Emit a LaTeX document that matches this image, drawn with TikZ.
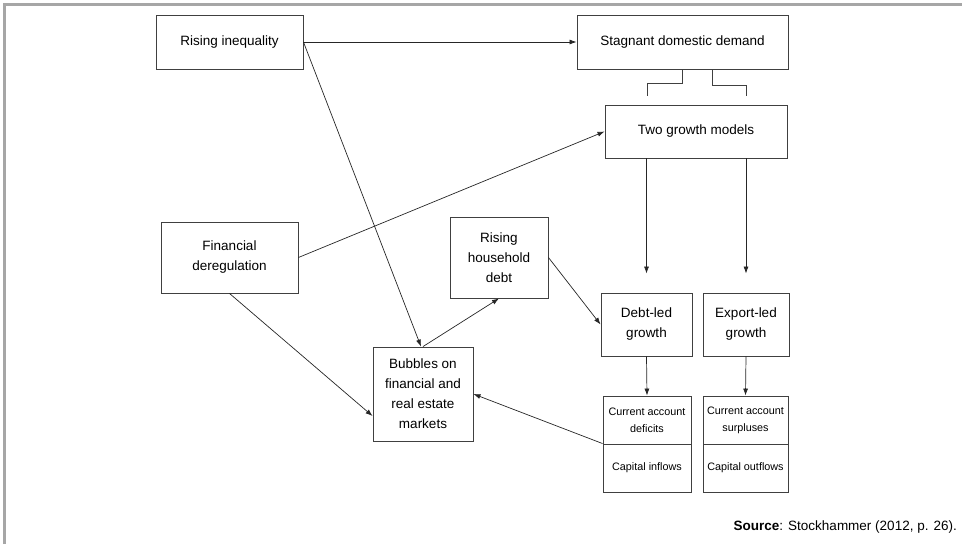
\documentclass[tikz,border=0pt]{standalone}
\usepackage{fontspec}
\setmainfont{Liberation Sans}
\usetikzlibrary{arrows.meta}

\begin{document}
\begin{tikzpicture}[x=1pt, y=-1pt, box/.style = {shape=rectangle, draw=black!75, line width=0.9pt, align=center, inner sep=0pt, font=\fontsize{13.5}{20}\selectfont}, small/.style = {box, font=\fontsize{10.8}{17}\selectfont}, arr/.style = {draw=black!85, line width=0.7pt, -{Latex[length=7pt,width=5pt]}}]
  \useasboundingbox (0,0) rectangle (962,544);
  \draw[black!35, line width=3pt] (4.5,544) -- (4.5,4.5) -- (962,4.5);
  \node[box, minimum width=147pt, minimum height=54pt] (rising) at (229.5,42) {Rising inequality};
  \node[box, minimum width=211pt, minimum height=54pt] (stagnant) at (682.5,42) {Stagnant domestic demand};
  \node[box, minimum width=182pt, minimum height=53pt] (models) at (696,131.5) {Two growth models};
  \node[box, minimum width=137pt, minimum height=71pt] (finreg) at (229.5,257.5) {Financial\\deregulation};
  \node[box, minimum width=98pt, minimum height=81pt] (hhdebt) at (499,257.5) {Rising\\household\\debt};
  \node[box, minimum width=100pt, minimum height=94pt] (bubbles) at (423,394) {Bubbles on\\financial and\\real estate\\markets};
  \node[box, minimum width=91pt, minimum height=63pt] (debtled) at (646.5,324.5) {Debt-led\\growth};
  \node[box, minimum width=86pt, minimum height=63pt] (exportled) at (746,324.5) {Export-led\\growth};
  \node[small, minimum width=88pt, minimum height=48pt] (cad) at (647,420) {Current account\\deficits};
  \node[small, minimum width=88pt, minimum height=48pt] (cin) at (647,468) {Capital inflows};
  \node[small, minimum width=85pt, minimum height=48pt] (cas) at (745.5,420) {Current account\\surpluses};
  \node[small, minimum width=85pt, minimum height=48pt] (cout) at (745.5,468) {Capital outflows};
  \node[anchor=east, inner sep=0pt, font=\fontsize{13.5}{16}\selectfont] (source) at (957,527) {\textbf{Source}: Stockhammer (2012, p. 26).};

  \draw[black!75, line width=0.9pt] (stagnant.south) |- ++(-35,14) -- ++(0,13);
  \draw[black!75, line width=0.9pt] ([xshift=30pt]stagnant.south) |- ++(34,16) -- ++(0,11);
  \draw[arr] (rising.east) -- (stagnant.west);
  \draw[arr] (rising.east) -- ([xshift=-2pt]bubbles.north);
  \draw[arr] (finreg.east) -- (models.west);
  \draw[arr] (finreg.south) -- ([yshift=-22pt]bubbles.west);
  \draw[arr] (bubbles.north) -- (hhdebt.south);
  \draw[arr] (hhdebt.east) -- (debtled.west);
  \draw[arr] (models.south -| debtled.north) -- ([yshift=19pt]debtled.north);
  \draw[arr] (models.south -| exportled.north) -- ([yshift=19pt]exportled.north);
  \draw[arr] (debtled.south) -- (cad.north);
  \draw[arr] (exportled.south) -- (cas.north);
  \draw[arr] (cin.north west) -- (bubbles.east);
\end{tikzpicture}
\end{document}
